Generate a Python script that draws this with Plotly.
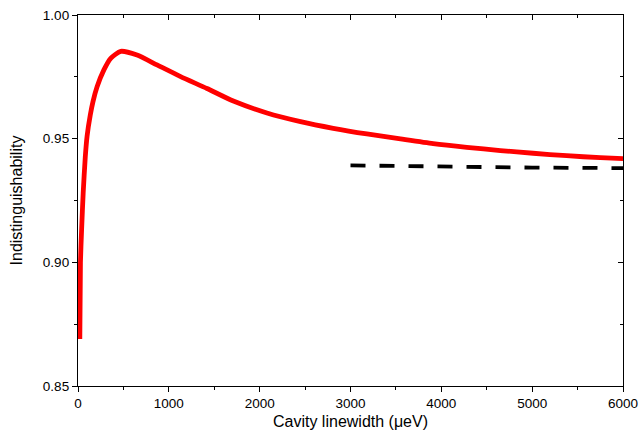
import plotly.graph_objects as go

# Red solid curve (cavity linewidth in µeV vs indistinguishability)
red_x = [20, 27, 40, 57, 80, 100, 135, 165, 210, 285, 360, 470, 650, 870, 1130,
         1420, 1710, 2080, 2450, 2810, 3180, 3550, 3910, 4280, 4650, 5010, 5380,
         5750, 6000]
red_y = [0.869, 0.900, 0.9135, 0.928, 0.9425, 0.951, 0.9595, 0.965, 0.971, 0.9778,
         0.9825, 0.9853, 0.9838, 0.9798, 0.9751, 0.9703, 0.9652, 0.9604, 0.9569,
         0.9542, 0.9519, 0.9499, 0.9480, 0.9465, 0.9452, 0.9441, 0.9431, 0.9423,
         0.9419]

# Black dashed curve
dash_x = [3000, 3500, 4000, 4500, 5000, 5500, 6000]
dash_y = [0.9392, 0.9389, 0.9386, 0.9384, 0.9383, 0.9382, 0.9381]

x_range = [0, 6000]
y_range = [0.85, 1.00]
x_title = "Cavity linewidth (μeV)"
y_title = "Indistinguishability"

FONT = "Liberation Sans, Arial, sans-serif"

fig = go.Figure()
fig.add_trace(go.Scatter(x=red_x, y=red_y, mode="lines",
                         line=dict(color="#ff0000", width=4.8, shape="spline", smoothing=0.6),
                         showlegend=False, hoverinfo="skip"))
fig.add_trace(go.Scatter(x=dash_x, y=dash_y, mode="lines",
                         line=dict(color="black", width=3.8, dash="15px,14px"),
                         showlegend=False, hoverinfo="skip"))
fig.add_trace(go.Scatter(x=x_range, y=y_range, xaxis="x2", yaxis="y2", mode="markers",
                         marker=dict(opacity=0, size=1),
                         showlegend=False, hoverinfo="skip"))

axis_common = dict(showgrid=False, zeroline=False, showline=True,
                   linecolor="black", linewidth=1.3, tickcolor="black",
                   tickwidth=1.2, ticklen=5)

fig.update_layout(
    width=641, height=434,
    margin=dict(l=78, r=18, t=15, b=48, autoexpand=False),
    paper_bgcolor="white", plot_bgcolor="white",
    font=dict(family=FONT, color="black"),
    xaxis=dict(range=x_range, ticks="outside", dtick=1000, tick0=0,
               tickfont=dict(size=13.5),
               minor=dict(ticks="outside", dtick=500, ticklen=3, tickcolor="black", tickwidth=1.2),
               title=dict(text=x_title, font=dict(size=16), standoff=5),
               **axis_common),
    yaxis=dict(range=y_range, ticks="outside", dtick=0.05, tick0=0.85,
               tickformat=".2f", tickfont=dict(size=13.5),
               minor=dict(ticks="outside", dtick=0.025, ticklen=3, tickcolor="black", tickwidth=1.2),
               title=dict(text=y_title, font=dict(size=16), standoff=16),
               **axis_common),
    xaxis2=dict(range=x_range, overlaying="x", side="top", ticks="inside",
                dtick=1000, tick0=0, showticklabels=False,
                minor=dict(ticks="inside", dtick=500, ticklen=3, tickcolor="black", tickwidth=1.2),
                **axis_common),
    yaxis2=dict(range=y_range, overlaying="y", side="right", ticks="inside",
                dtick=0.05, tick0=0.85, showticklabels=False,
                minor=dict(ticks="inside", dtick=0.025, ticklen=3, tickcolor="black", tickwidth=1.2),
                **axis_common),
)

fig.write_html("out.html", config={"displayModeBar": False},
               post_script="document.body.style.margin='0';document.body.style.overflow='hidden';")
